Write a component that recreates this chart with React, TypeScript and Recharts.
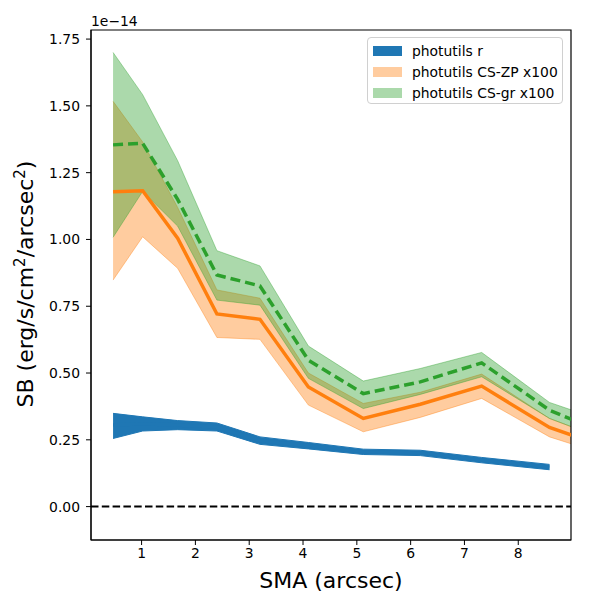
import { ComposedChart, Area, Line, XAxis, YAxis, ReferenceLine, ReferenceArea, Legend } from "recharts";

// semi-major axis (arcsec)
const sma = [0.47, 1.02, 1.67, 2.4, 3.2, 4.1, 5.12, 6.18, 7.32, 8.58, 9.0];

// photutils r (units of 1e-14)
const rMid = [0.305, 0.31, 0.305, 0.298, 0.247, 0.228, 0.205, 0.201, 0.174, 0.148, null];
const rLo = [0.255, 0.283, 0.288, 0.283, 0.233, 0.216, 0.195, 0.191, 0.164, 0.138, null];
const rHi = [0.349, 0.336, 0.322, 0.313, 0.261, 0.240, 0.215, 0.211, 0.184, 0.158, null];

// photutils CS-ZP x100
const zpMid = [1.179, 1.182, 1.005, 0.721, 0.701, 0.448, 0.33, 0.383, 0.451, 0.296, 0.267];
const zpLo = [0.848, 1.01, 0.892, 0.633, 0.626, 0.38, 0.28, 0.334, 0.405, 0.261, 0.234];
const zpHi = [1.517, 1.365, 1.12, 0.811, 0.78, 0.5, 0.386, 0.428, 0.496, 0.33, 0.298];

// photutils CS-gr x100
const grMid = [1.354, 1.36, 1.15, 0.867, 0.826, 0.548, 0.423, 0.467, 0.538, 0.361, 0.326];
const grLo = [1.008, 1.18, 1.05, 0.773, 0.754, 0.48, 0.367, 0.42, 0.486, 0.33, 0.298];
const grHi = [1.7, 1.542, 1.295, 0.958, 0.901, 0.601, 0.47, 0.517, 0.577, 0.39, 0.361];

const xTicks = [1, 2, 3, 4, 5, 6, 7, 8];
const yTicks = [0, 0.25, 0.5, 0.75, 1.0, 1.25, 1.5, 1.75];

const legendItems = [
  { name: "photutils r", color: "#1f77b4", opacity: 1 },
  { name: "photutils CS-ZP x100", color: "#ff7f0e", opacity: 0.4 },
  { name: "photutils CS-gr x100", color: "#2ca02c", opacity: 0.4 },
];

const X_DOMAIN: [number, number] = [0.06, 8.98];
const Y_DOMAIN: [number, number] = [-0.125, 1.784];
const FONT = "DejaVu Sans";
const tickStyle = { fill: "#000", stroke: "none", fontSize: 13.9, fontFamily: FONT };

const data = sma.map((x, i) => ({
  sma: x,
  r: rMid[i],
  rBand: rMid[i] == null ? null : [rLo[i], rHi[i]],
  zp: zpMid[i],
  zpBand: [zpLo[i], zpHi[i]],
  gr: grMid[i],
  grBand: [grLo[i], grHi[i]],
}));

function LegendBox() {
  return (
    <div
      style={{
        boxSizing: "border-box",
        width: 196,
        height: 67,
        border: "1px solid #d0d0d0",
        borderRadius: 4,
        background: "rgba(255,255,255,0.8)",
        paddingTop: 2,
        fontFamily: FONT,
        fontSize: 13.9,
        color: "#000",
      }}
    >
      {legendItems.map((it) => (
        <div key={it.name} style={{ display: "flex", alignItems: "center", height: 21 }}>
          <span
            style={{
              display: "inline-block",
              marginLeft: 5,
              width: 29,
              height: 10,
              background: it.color,
              opacity: it.opacity,
            }}
          />
          <span style={{ marginLeft: 10, whiteSpace: "nowrap" }}>{it.name}</span>
        </div>
      ))}
    </div>
  );
}

// y title plus the matplotlib-style offset text
function YTitle() {
  return (
    <g>
      <text
        x={33}
        y={284}
        transform="rotate(-90, 33, 284)"
        textAnchor="middle"
        fontFamily={FONT}
        fontSize={22}
        fill="#000"
      >
        SB (erg/s/cm
        <tspan dy={-8} fontSize={15}>2</tspan>
        <tspan dy={8}>/arcsec</tspan>
        <tspan dy={-8} fontSize={15}>2</tspan>
        <tspan dy={8}>)</tspan>
      </text>
      <text x={91} y={26} fontFamily={FONT} fontSize={13.9} fill="#000">
        1e−14
      </text>
    </g>
  );
}

function XTitle() {
  return (
    <text x={331} y={588} textAnchor="middle" fontFamily={FONT} fontSize={22} fill="#000">
      SMA (arcsec)
    </text>
  );
}

export default function App() {
  return (
    <div style={{ position: "absolute", left: 0, top: 0, width: 600, height: 600, background: "#fff" }}>
      <ComposedChart width={600} height={600} data={data} margin={{ top: 30, right: 29, left: 0, bottom: 0 }}>
        <XAxis
          dataKey="sma"
          type="number"
          domain={X_DOMAIN}
          ticks={xTicks}
          allowDataOverflow
          height={60}
          tickSize={5}
          tickMargin={3}
          axisLine={{ stroke: "#000" }}
          tickLine={{ stroke: "#000" }}
          tick={tickStyle}
          label={{ content: () => <XTitle /> }}
        />
        <YAxis
          type="number"
          domain={Y_DOMAIN}
          ticks={yTicks}
          allowDataOverflow
          width={91}
          tickSize={5}
          tickMargin={6}
          axisLine={{ stroke: "#000" }}
          tickLine={{ stroke: "#000" }}
          tickFormatter={(v: number) => v.toFixed(2)}
          tick={tickStyle}
          label={{ content: () => <YTitle /> }}
        />
        <Area
          dataKey="rBand"
          type="linear"
          fill="#1f77b4"
          fillOpacity={1}
          stroke="#1f77b4"
          strokeWidth={1}
          isAnimationActive={false}
          dot={false}
          activeDot={false}
        />
        <Area
          dataKey="zpBand"
          type="linear"
          fill="#ff7f0e"
          fillOpacity={0.4}
          stroke="#ff7f0e"
          strokeOpacity={0.4}
          strokeWidth={1}
          isAnimationActive={false}
          dot={false}
          activeDot={false}
        />
        <Area
          dataKey="grBand"
          type="linear"
          fill="#2ca02c"
          fillOpacity={0.4}
          stroke="#2ca02c"
          strokeOpacity={0.4}
          strokeWidth={1}
          isAnimationActive={false}
          dot={false}
          activeDot={false}
        />
        <Line dataKey="r" type="linear" stroke="#1f77b4" strokeWidth={3.5} dot={false} activeDot={false} isAnimationActive={false} />
        <Line dataKey="zp" type="linear" stroke="#ff7f0e" strokeWidth={3.5} dot={false} activeDot={false} isAnimationActive={false} />
        <Line
          dataKey="gr"
          type="linear"
          stroke="#2ca02c"
          strokeWidth={3.5}
          strokeDasharray="10 5"
          dot={false}
          activeDot={false}
          isAnimationActive={false}
        />
        <ReferenceLine y={0} stroke="#000" strokeWidth={2} strokeDasharray="7.5 3.3" />
        <ReferenceArea x1={X_DOMAIN[0]} x2={X_DOMAIN[1]} y1={Y_DOMAIN[0]} y2={Y_DOMAIN[1]} fill="none" stroke="#000" strokeWidth={1.2} />
        <Legend
          layout="vertical"
          align="center"
          verticalAlign="middle"
          content={() => <LegendBox />}
          wrapperStyle={{ left: 367, top: 37, width: 196, height: 67 }}
        />
      </ComposedChart>
    </div>
  );
}
